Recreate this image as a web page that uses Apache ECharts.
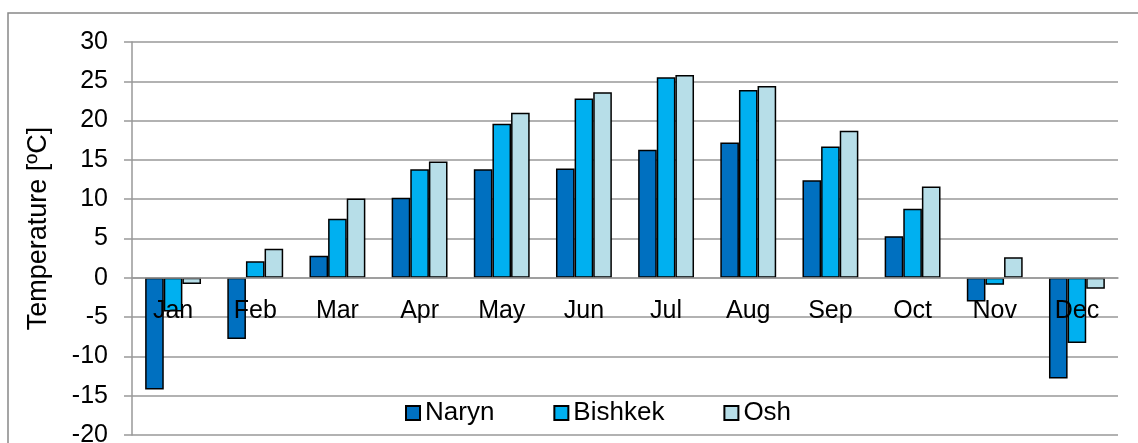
<!DOCTYPE html>
<html>
<head>
<meta charset="utf-8">
<script src="https://cdn.jsdelivr.net/npm/echarts@6/dist/echarts.min.js"></script>
<style>
  html, body { margin: 0; padding: 0; background: #fff; }
  #chart { width: 1138px; height: 443px; }
</style>
</head>
<body>
<div id="chart"></div>
<script>
const months = ['Jan', 'Feb', 'Mar', 'Apr', 'May', 'Jun', 'Jul', 'Aug', 'Sep', 'Oct', 'Nov', 'Dec']
const naryn = [-14.2, -7.8, 2.8, 10.2, 13.8, 13.9, 16.3, 17.2, 12.4, 5.3, -3.0, -12.8]
const bishkek = [-4.3, 2.1, 7.5, 13.8, 19.6, 22.8, 25.5, 23.9, 16.7, 8.8, -0.9, -8.3]
const osh = [-0.8, 3.7, 10.1, 14.8, 21.0, 23.6, 25.8, 24.4, 18.7, 11.6, 2.6, -1.4]

const yMin = -20
const yMax = 30

const font = 'Liberation Sans, Arial, sans-serif'

const gridTop = 42
const gridBottom = 8
const chartHeight = 443
// the category axis sits on the zero line; move it up from the grid bottom
const plotHeight = chartHeight - gridTop - gridBottom
const zeroOffset = -plotHeight * (0 - yMin) / (yMax - yMin)

const chart = echarts.init(document.getElementById('chart'))

function barSeries(name, data, color) {
  return {
    name: name,
    type: 'bar',
    data: data,
    barGap: 0,
    barCategoryGap: '32%',
    itemStyle: {
      color: color,
      borderColor: '#000',
      borderWidth: 1.5
    }
  }
}

chart.setOption({
  animation: false,
  textStyle: { fontFamily: font },
  graphic: [{
    type: 'rect',
    shape: { x: 8, y: 13, width: 1140, height: 440 },
    style: { fill: 'none', stroke: '#888', lineWidth: 1.5 },
    silent: true
  }],
  grid: {
    left: 132,
    right: 20,
    top: gridTop,
    bottom: gridBottom,
    containLabel: false,
    outerBoundsMode: 'none'
  },
  legend: {
    left: 400,
    top: 395,
    itemWidth: 14,
    itemHeight: 14,
    itemGap: 59,
    icon: 'rect',
    textStyle: { fontSize: 26, color: '#000', fontFamily: font },
    data: ['Naryn', 'Bishkek', 'Osh']
  },
  xAxis: {
    type: 'category',
    data: months,
    position: 'bottom',
    offset: zeroOffset,
    axisLine: { onZero: false, lineStyle: { color: '#999', width: 1.5 } },
    axisTick: { length: 7, lineStyle: { color: '#999', width: 1.5 } },
    axisLabel: { interval: 0, margin: 21, fontSize: 25, color: '#000', fontFamily: font },
    splitLine: { show: false },
    z: 10
  },
  yAxis: {
    type: 'value',
    min: yMin,
    max: yMax,
    interval: 5,
    name: 'Temperature [ºC]',
    nameLocation: 'middle',
    nameGap: 80,
    nameTextStyle: { fontSize: 27, color: '#000', fontFamily: font, padding: [0, 0, 0, 20] },
    axisLine: { show: true, lineStyle: { color: '#999', width: 1.5 } },
    axisTick: { show: true, length: 8, lineStyle: { color: '#999', width: 1.5 } },
    axisLabel: { margin: 24, fontSize: 25, color: '#000', fontFamily: font },
    splitLine: { lineStyle: { color: '#999', width: 1.5 } }
  },
  series: [
    barSeries('Naryn', naryn, '#0070C0'),
    barSeries('Bishkek', bishkek, '#00B0F0'),
    barSeries('Osh', osh, '#B7DEE8')
  ]
})
</script>
</body>
</html>
